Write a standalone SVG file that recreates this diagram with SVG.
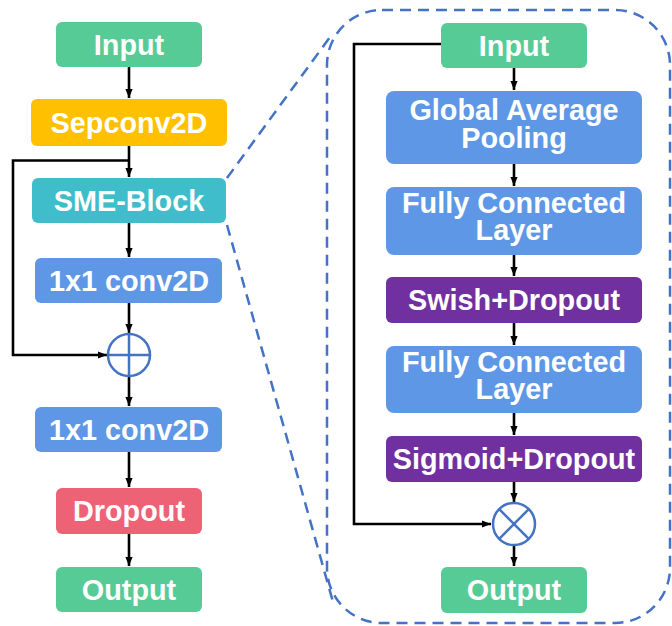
<svg xmlns="http://www.w3.org/2000/svg" width="672" height="626" viewBox="0 0 672 626">
<defs>
<style>
.box{stroke:none}
.t{font-family:"Liberation Sans",Arial,sans-serif;font-weight:bold;font-size:28.8px;fill:#fff;text-anchor:middle}
.c{fill:none;stroke:#000;stroke-width:2.6}
.op{fill:#fff;stroke:#4472C4;stroke-width:2.5}
.dash{fill:none;stroke:#4472C4;stroke-width:2.5;stroke-dasharray:11,7}
</style>
<marker id="ah" viewBox="0 0 10 10" refX="10" refY="5" markerWidth="3.6" markerHeight="3.6" orient="auto" markerUnits="strokeWidth">
<path d="M0,1 L10,5 L0,9 Z" fill="#000"/>
</marker>
</defs>
<rect width="672" height="626" fill="#fff"/>
<g id="zoom-outline">
<rect class="dash" x="327" y="10" width="343" height="613" rx="55"/>
<line class="dash" x1="227" y1="178" x2="333" y2="33"/>
<line class="dash" x1="227" y1="225" x2="333" y2="602"/>
</g>
<g id="connectors">
<line class="c" x1="129" y1="67" x2="129" y2="98" marker-end="url(#ah)"/>
<line class="c" x1="129" y1="146" x2="129" y2="177" marker-end="url(#ah)"/>
<polyline class="c" points="129,160.5 13,160.5 13,355 107,355" marker-end="url(#ah)"/>
<line class="c" x1="129" y1="223" x2="129" y2="257" marker-end="url(#ah)"/>
<line class="c" x1="129" y1="303" x2="129" y2="333" marker-end="url(#ah)"/>
<line class="c" x1="129" y1="377" x2="129" y2="406" marker-end="url(#ah)"/>
<line class="c" x1="129" y1="452" x2="129" y2="487" marker-end="url(#ah)"/>
<line class="c" x1="129" y1="534" x2="129" y2="566" marker-end="url(#ah)"/>
<line class="c" x1="514" y1="68" x2="514" y2="90" marker-end="url(#ah)"/>
<line class="c" x1="514" y1="164" x2="514" y2="186" marker-end="url(#ah)"/>
<line class="c" x1="514" y1="255" x2="514" y2="276" marker-end="url(#ah)"/>
<line class="c" x1="514" y1="323" x2="514" y2="345" marker-end="url(#ah)"/>
<line class="c" x1="514" y1="413" x2="514" y2="435" marker-end="url(#ah)"/>
<line class="c" x1="514" y1="482" x2="514" y2="502" marker-end="url(#ah)"/>
<polyline class="c" points="441,44 354,44 354,524 491,524" marker-end="url(#ah)"/>
<line class="c" x1="514" y1="546" x2="514" y2="566" marker-end="url(#ah)"/>
</g>
<g id="left-input"><rect class="box" x="56" y="22" width="146" height="45" rx="6" fill="#57CB96"/><text class="t" x="129" y="55">Input</text></g>
<g id="sepconv"><rect class="box" x="31" y="99" width="196" height="47" rx="6" fill="#FFC000"/><text class="t" x="129" y="133">Sepconv2D</text></g>
<g id="sme-block"><rect class="box" x="32" y="178" width="194" height="45" rx="6" fill="#3FBDCA"/><text class="t" x="129" y="211">SME-Block</text></g>
<g id="conv1"><rect class="box" x="35" y="258" width="187" height="45" rx="6" fill="#5E97E6"/><text class="t" x="129" y="291">1x1 conv2D</text></g>
<g id="add"><circle class="op" cx="129" cy="355" r="21"/><line x1="108" y1="355" x2="150" y2="355" stroke="#4472C4" stroke-width="2.5"/><line x1="129" y1="334" x2="129" y2="376" stroke="#4472C4" stroke-width="2.5"/></g>
<g id="conv2"><rect class="box" x="35" y="407" width="187" height="45" rx="6" fill="#5E97E6"/><text class="t" x="129" y="440">1x1 conv2D</text></g>
<g id="dropout"><rect class="box" x="56" y="488" width="146" height="46" rx="6" fill="#EE6276"/><text class="t" x="129" y="521">Dropout</text></g>
<g id="left-output"><rect class="box" x="56" y="567" width="146" height="45" rx="6" fill="#57CB96"/><text class="t" x="129" y="600">Output</text></g>
<g id="right-input"><rect class="box" x="441" y="23" width="146" height="45" rx="6" fill="#57CB96"/><text class="t" x="514" y="56">Input</text></g>
<g id="gap"><rect class="box" x="386" y="91" width="256" height="73" rx="8" fill="#5E97E6"/><text class="t"><tspan x="514" y="120">Global Average</tspan><tspan x="514" y="148">Pooling</tspan></text></g>
<g id="fc1"><rect class="box" x="386" y="187" width="256" height="68" rx="8" fill="#5E97E6"/><text class="t"><tspan x="514" y="213">Fully Connected</tspan><tspan x="514" y="240">Layer</tspan></text></g>
<g id="swish"><rect class="box" x="386" y="277" width="256" height="46" rx="6" fill="#7030A0"/><text class="t" x="514" y="310">Swish+Dropout</text></g>
<g id="fc2"><rect class="box" x="386" y="346" width="256" height="67" rx="8" fill="#5E97E6"/><text class="t"><tspan x="514" y="372">Fully Connected</tspan><tspan x="514" y="399">Layer</tspan></text></g>
<g id="sigmoid"><rect class="box" x="386" y="436" width="256" height="46" rx="6" fill="#7030A0"/><text class="t" x="514" y="469">Sigmoid+Dropout</text></g>
<g id="mul"><circle class="op" cx="514" cy="524" r="21"/><line x1="499.2" y1="509.2" x2="528.8" y2="538.8" stroke="#4472C4" stroke-width="2.5"/><line x1="528.8" y1="509.2" x2="499.2" y2="538.8" stroke="#4472C4" stroke-width="2.5"/></g>
<g id="right-output"><rect class="box" x="441" y="567" width="146" height="46" rx="6" fill="#57CB96"/><text class="t" x="514" y="600">Output</text></g>
</svg>
